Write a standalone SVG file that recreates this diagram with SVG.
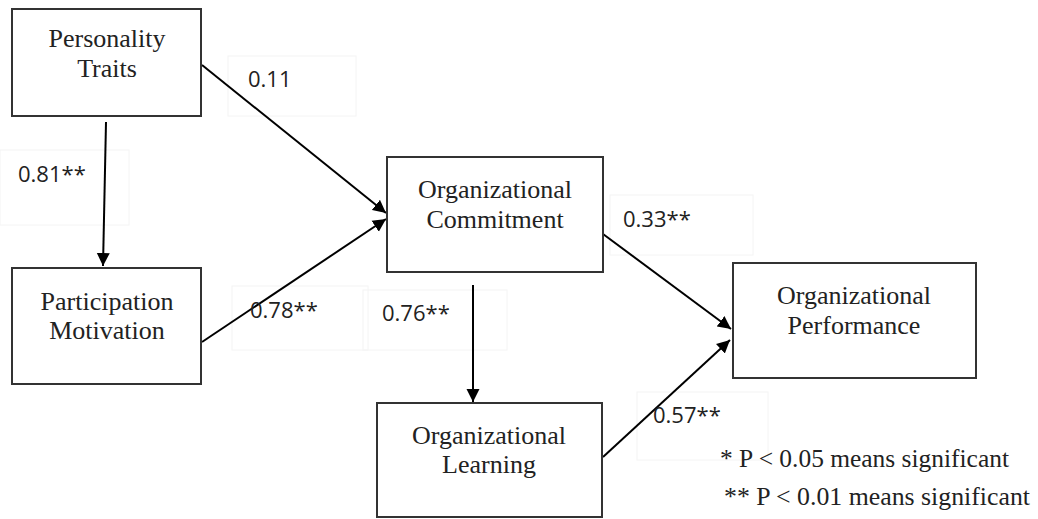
<svg xmlns="http://www.w3.org/2000/svg" width="1038" height="519" viewBox="0 0 1038 519">
  <defs>
    <marker id="arrow" markerUnits="userSpaceOnUse" markerWidth="14" markerHeight="14" viewBox="0 0 14 14" refX="13" refY="7" orient="auto">
      <path d="M0,0.5 L13,7 L0,13.5 Z" fill="#000"/>
    </marker>
    <style>
      .box { fill: #fff; stroke: #333; stroke-width: 2; }
      .node-text { font-family: "Liberation Serif", "Times New Roman", serif; font-size: 26px; fill: #222; text-anchor: middle; }
      .edge { fill: none; stroke: #000; stroke-width: 2; marker-end: url(#arrow); }
      .coef { font-family: "Open Sans", "Liberation Sans", sans-serif; font-size: 22px; fill: #222; }
      .coef-frame { fill: none; stroke: #f4f4f4; stroke-width: 1; }
      .note { font-family: "Liberation Serif", "Times New Roman", serif; font-size: 25.5px; fill: #222; }
    </style>
  </defs>

  <rect width="1038" height="519" fill="#fff"/>

  <!-- faint frames behind the path coefficients -->
  <g id="coef-frames">
    <rect class="coef-frame" x="228" y="56" width="128" height="60"/>
    <rect class="coef-frame" x="0" y="150" width="129" height="75"/>
    <rect class="coef-frame" x="232" y="286" width="136" height="64"/>
    <rect class="coef-frame" x="363" y="290" width="144" height="60"/>
    <rect class="coef-frame" x="610" y="195" width="143" height="60"/>
    <rect class="coef-frame" x="637" y="392" width="131" height="68"/>
  </g>

  <!-- paths between constructs -->
  <g id="connectors">
    <line class="edge" x1="106" y1="122" x2="103" y2="266"/>
    <line class="edge" x1="202" y1="65" x2="386" y2="213"/>
    <line class="edge" x1="202" y1="342" x2="386" y2="219"/>
    <line class="edge" x1="473" y1="285" x2="473" y2="402"/>
    <line class="edge" x1="603" y1="234" x2="731" y2="329"/>
    <line class="edge" x1="603" y1="457" x2="730" y2="340"/>
  </g>

  <g id="personality-traits">
    <rect class="box" x="12" y="9" width="189" height="107"/>
    <text class="node-text" x="107" y="47">Personality</text>
    <text class="node-text" x="107" y="77">Traits</text>
  </g>

  <g id="participation-motivation">
    <rect class="box" x="12" y="268" width="189" height="116"/>
    <text class="node-text" x="107" y="310">Participation</text>
    <text class="node-text" x="107" y="339">Motivation</text>
  </g>

  <g id="organizational-commitment">
    <rect class="box" x="387" y="157" width="216" height="115"/>
    <text class="node-text" x="495" y="198">Organizational</text>
    <text class="node-text" x="495" y="228">Commitment</text>
  </g>

  <g id="organizational-learning">
    <rect class="box" x="377" y="403" width="225" height="114"/>
    <text class="node-text" x="489" y="444">Organizational</text>
    <text class="node-text" x="489" y="473">Learning</text>
  </g>

  <g id="organizational-performance">
    <rect class="box" x="733" y="263" width="243" height="115"/>
    <text class="node-text" x="854" y="304">Organizational</text>
    <text class="node-text" x="854" y="334">Performance</text>
  </g>

  <!-- path coefficients -->
  <g id="coefficients">
    <text class="coef" x="248" y="87">0.11</text>
    <text class="coef" x="18" y="182">0.81**</text>
    <text class="coef" x="250" y="318">0.78**</text>
    <text class="coef" x="382" y="321">0.76**</text>
    <text class="coef" x="623" y="227">0.33**</text>
    <text class="coef" x="653" y="423">0.57**</text>
  </g>

  <g id="significance-note">
    <text class="note" x="720" y="467" textLength="289" lengthAdjust="spacingAndGlyphs">* P &lt; 0.05 means significant</text>
    <text class="note" x="724" y="505" textLength="306" lengthAdjust="spacingAndGlyphs">** P &lt; 0.01 means significant</text>
  </g>
</svg>
